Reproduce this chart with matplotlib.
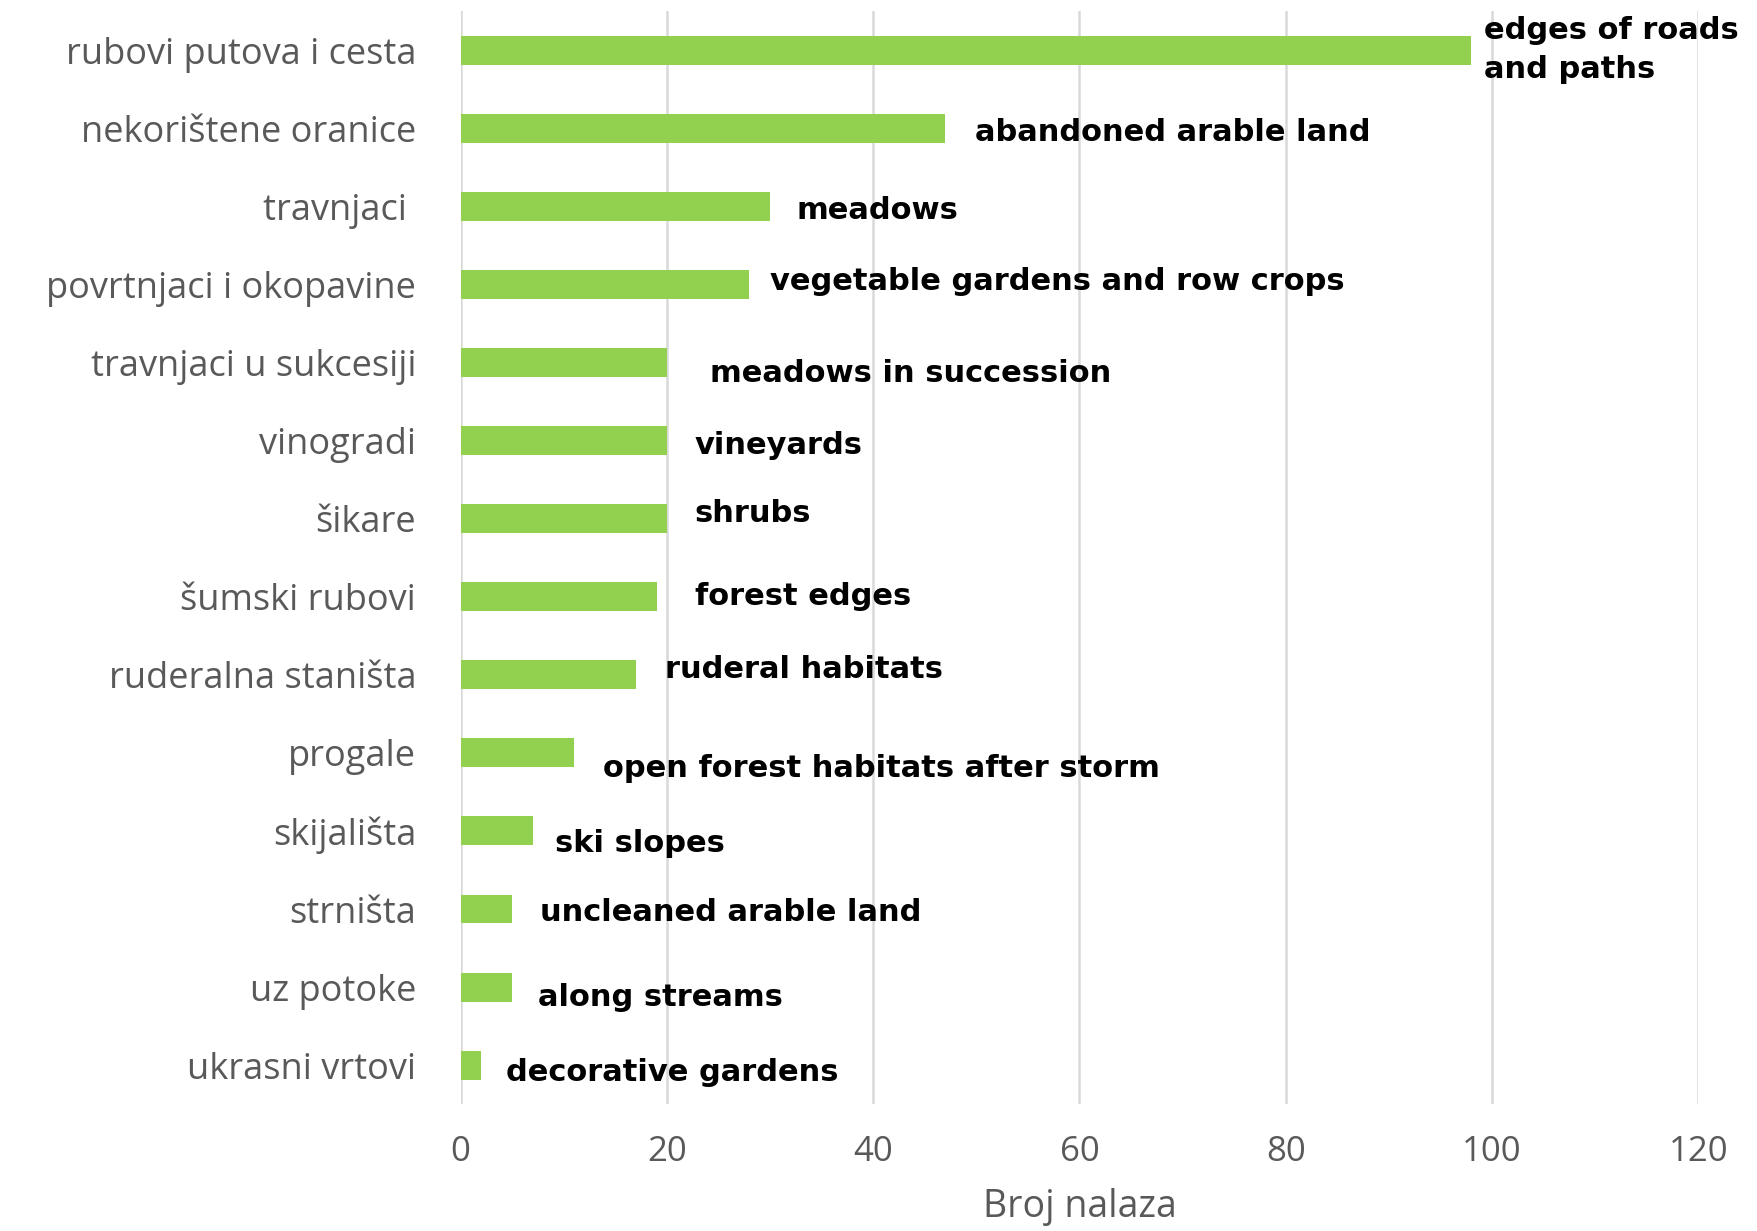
import matplotlib.pyplot as plt

# habitat categories (Croatian), top to bottom
categories = ['rubovi putova i cesta', 'nekorištene oranice', 'travnjaci ',
              'povrtnjaci i okopavine', 'travnjaci u sukcesiji', 'vinogradi',
              'šikare', 'šumski rubovi', 'ruderalna staništa', 'progale',
              'skijališta', 'strništa', 'uz potoke', 'ukrasni vrtovi']
counts = [98, 47, 30, 28, 20, 20, 20, 19, 17, 11, 7, 5, 5, 2]
english = ['edges of roads\nand paths', 'abandoned arable land', 'meadows',
           'vegetable gardens and row crops', 'meadows in succession',
           'vineyards', 'shrubs', 'forest edges', 'ruderal habitats',
           'open forest habitats after storm', 'ski slopes',
           'uncleaned arable land', 'along streams', 'decorative gardens']
xticks = [0, 20, 40, 60, 80, 100, 120]

# where the english notes sit (x in data units, y shift from bar centre)
note_x = [99.2, 49.9, 32.6, 30.0, 24.2, 22.7, 22.7, 22.7, 19.8, 13.8, 9.2, 7.7, 7.5, 4.4]
note_dy = [0.0, 0.06, 0.05, -0.04, 0.14, 0.07, -0.07, 0.0, -0.07, 0.2, 0.16, 0.05, 0.13, 0.09]

fig = plt.figure(figsize=(17.58, 12.31), dpi=100)
ax = fig.add_axes([0.262, 0.103, 0.704, 0.888])

ypos = list(range(len(categories)))
ax.barh(ypos, counts, height=0.37, color='#92D050', zorder=3)
ax.set_ylim(len(categories) - 0.5, -0.5)
ax.set_xlim(0, 120)

ax.set_xticks(xticks)
ax.set_yticks(ypos)
ax.set_yticklabels(categories)
ax.tick_params(axis='y', length=0, pad=32, labelsize=26, labelcolor='#595959')
ax.tick_params(axis='x', length=0, pad=22, labelsize=25, labelcolor='#595959')
for lab in ax.get_yticklabels() + ax.get_xticklabels():
    lab.set_family('Open Sans')

ax.grid(axis='x', color='#D9D9D9', linewidth=1.8, zorder=0)
for s in ax.spines.values():
    s.set_visible(False)

ax.set_xlabel('Broj nalaza', fontsize=27, color='#595959', family='Open Sans', labelpad=14)

for i in range(len(categories)):
    ax.text(note_x[i], i + note_dy[i], english[i], fontsize=22, fontweight='bold',
            color='black', va='center', ha='left', linespacing=1.45, zorder=4)

fig.savefig('out.png', dpi=100)
